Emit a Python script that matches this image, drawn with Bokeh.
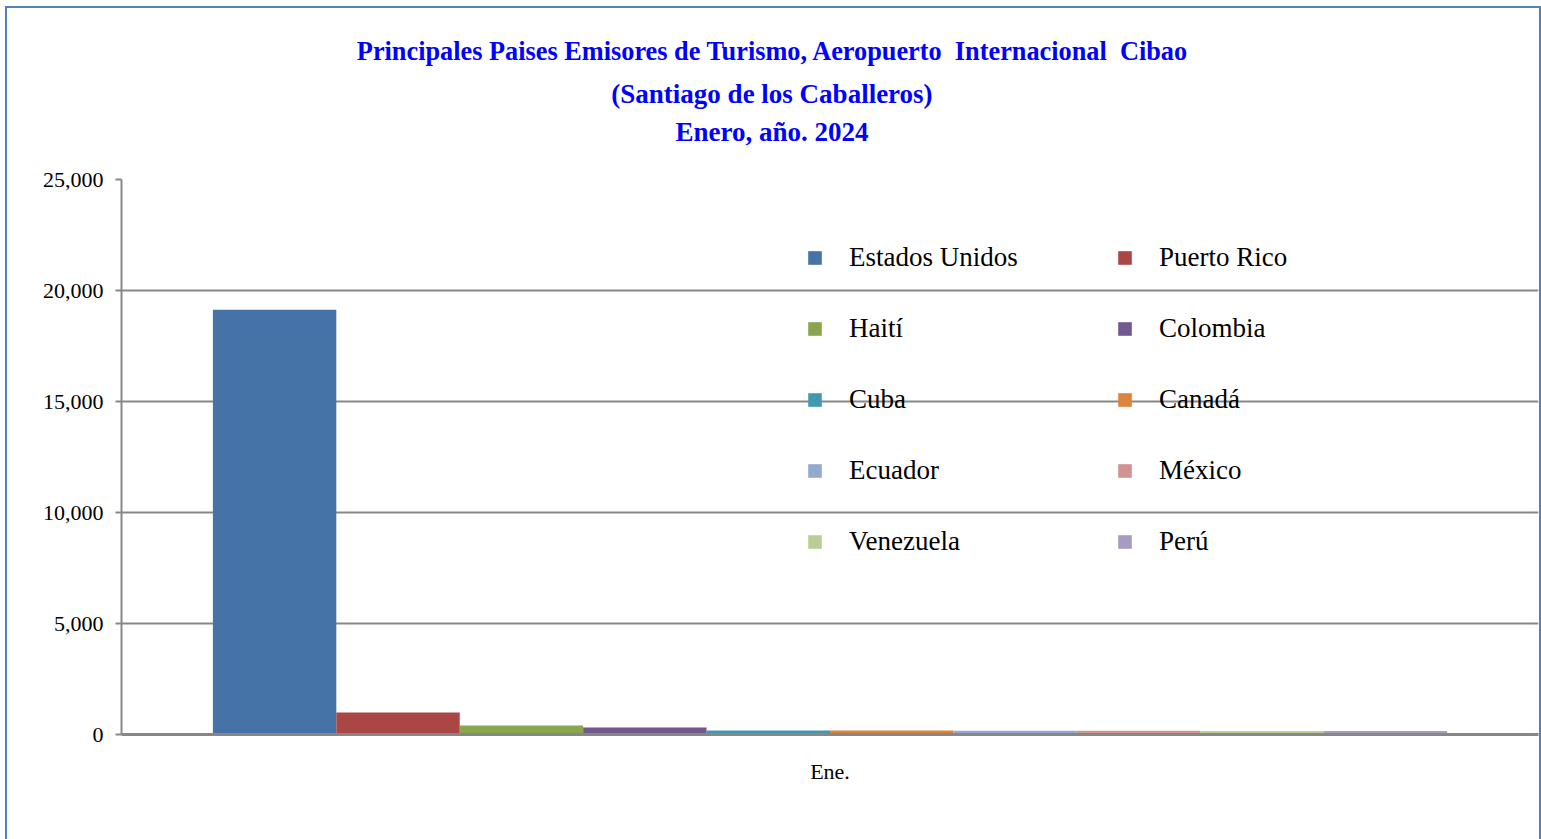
from bokeh.plotting import figure
from bokeh.layouts import column
from bokeh.models import (ColumnDataSource, FactorRange, Range1d, FixedTicker,
                          NumeralTickFormatter, Legend, LegendItem, Div)
from bokeh.transform import dodge
from bokeh.embed import file_html
from bokeh.resources import INLINE

# ---- data ----
category = ["Ene."]
countries = ["Estados Unidos", "Puerto Rico", "Haití", "Colombia", "Cuba",
             "Canadá", "Ecuador", "México", "Venezuela", "Perú"]
values = [19130, 990, 405, 315, 180, 175, 170, 165, 160, 155]
colors = ["#4572A7", "#AA4643", "#89A54E", "#71588F", "#4198AF",
          "#DB843D", "#93A9CF", "#D19392", "#B9CD96", "#A99BBD"]
y_ticks = [0, 5000, 10000, 15000, 20000, 25000]
title_lines = ["Principales Paises Emisores de Turismo, Aeropuerto  Internacional  Cibao",
               "(Santiago de los Caballeros)",
               "Enero, año. 2024"]

FONT = "Liberation Serif"
GRID = "#878787"
BORDER = "#4F81BD"

# ---- title block ----
line_styles = [(42, 26.3), (42, 27), (34, 27)]
inner = "".join(
    f'<div style="margin:0;padding:0;height:{lh}px;line-height:{lh}px;font-size:{fs}px;">{t}</div>'
    for t, (lh, fs) in zip(title_lines, line_styles))
title_div = Div(text=inner, width=1541, height=150,
                styles={"font-family": f"'{FONT}'", "font-size": "27px",
                        "font-weight": "bold", "color": "#0000FF",
                        "text-align": "center", "white-space": "pre",
                        "padding-top": "31px", "padding-left": "3px",
                        "box-sizing": "border-box", "margin": "0"})

# ---- figure ----
p = figure(width=1541, height=689, x_range=FactorRange(factors=category, range_padding=0),
           y_range=Range1d(0, 25000), output_backend="svg", toolbar_location=None,
           min_border_left=121, min_border_right=3,
           min_border_top=29, min_border_bottom=105)
p.title.visible = False
p.border_fill_alpha = 0

# bars
n = len(countries)
bw = 0.0871
start = -bw * n / 2
items = []
for i, (c, v, col) in enumerate(zip(countries, values, colors)):
    src = ColumnDataSource(dict(x=category, top=[v]))
    r = p.vbar(x=dodge("x", start + bw * (i + 0.5), range=p.x_range), top="top",
               width=bw, source=src, fill_color=col, line_color=None)
    items.append(LegendItem(label=c, renderers=[r]))

legend = Legend(items=items, orientation="horizontal", ncols=2,
                location=(685, 177), glyph_width=17, glyph_height=17,
                label_height=30, label_width=227, label_standoff=26, spacing=40,
                padding=0, margin=0, border_line_color=None,
                background_fill_alpha=0, label_text_font=FONT,
                label_text_font_size="27px", label_text_color="#000000")
p.add_layout(legend, "center")

# axes
p.yaxis.ticker = FixedTicker(ticks=y_ticks)
p.yaxis.formatter = NumeralTickFormatter(format="0,0")
p.yaxis.major_label_text_font = FONT
p.yaxis.major_label_text_font_size = "22px"
p.yaxis.major_label_text_color = "#000000"
p.yaxis.major_label_standoff = 12
p.yaxis.axis_line_color = GRID
p.yaxis.axis_line_width = 2
p.yaxis.major_tick_line_color = GRID
p.yaxis.major_tick_line_width = 2
p.yaxis.major_tick_out = 6
p.yaxis.major_tick_in = 0
p.yaxis.minor_tick_line_color = None

p.xaxis.major_label_text_font = FONT
p.xaxis.major_label_text_font_size = "22px"
p.xaxis.major_label_text_color = "#000000"
p.xaxis.major_label_standoff = 18
p.xaxis.axis_line_color = GRID
p.xaxis.axis_line_width = 3
p.xaxis.major_tick_line_color = None
p.xaxis.minor_tick_line_color = None

p.xgrid.grid_line_color = None
p.ygrid.grid_line_color = GRID
p.ygrid.grid_line_width = 2
p.outline_line_color = None
p.background_fill_color = "white"

layout = column(title_div, p, spacing=0)
g = f"linear-gradient({BORDER},{BORDER})"
layout.styles = {"background": f"{g} 5px 6px / 2px 100% no-repeat, "
                               f"{g} 5px 6px / 100% 2px no-repeat, "
                               f"{g} 1539px 6px / 2px 100% no-repeat, white"}

open("out.html", "w").write(file_html(layout, INLINE))
